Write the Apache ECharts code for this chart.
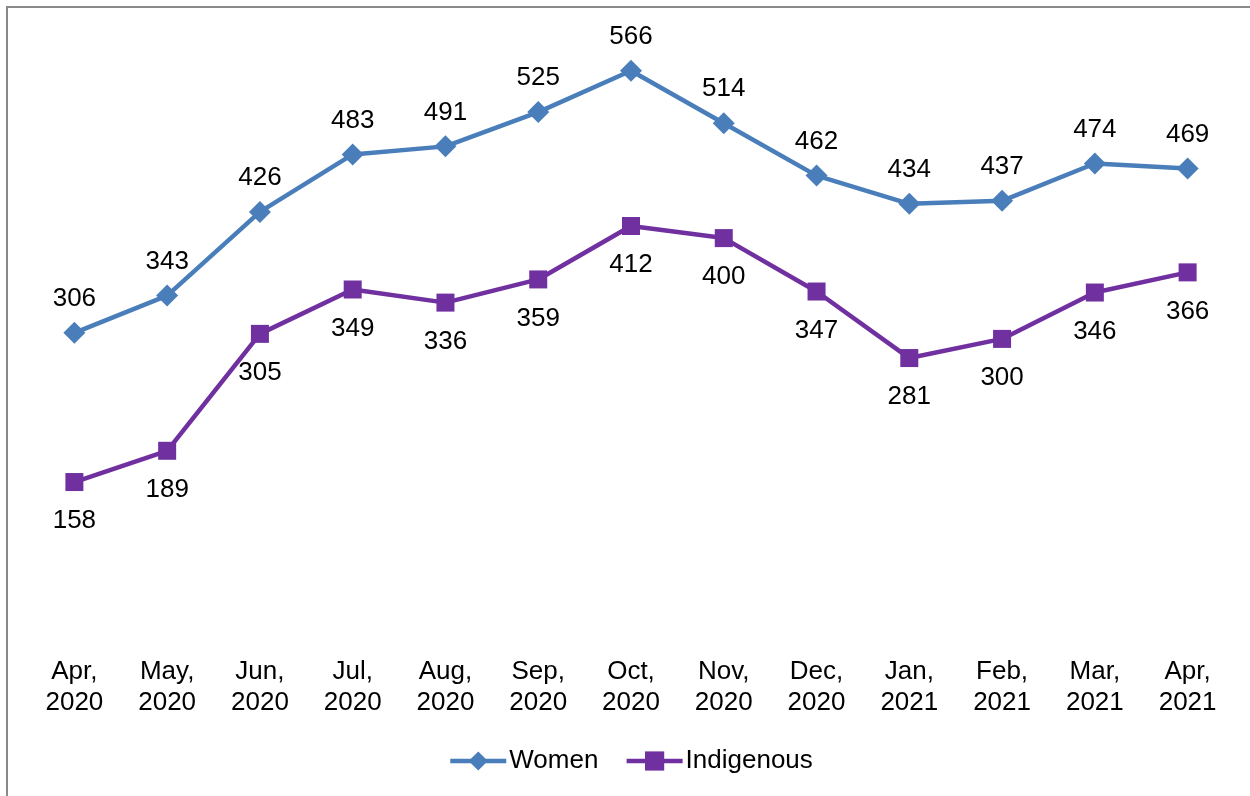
<!DOCTYPE html>
<html>
<head>
<meta charset="utf-8">
<style>
html,body{margin:0;padding:0;background:#fff;}
#chart{width:1250px;height:796px;}
</style>
<script src="https://cdn.jsdelivr.net/npm/echarts@6/dist/echarts.min.js"></script>
</head>
<body>
<div id="chart"></div>
<script>
const categories = ['Apr,\n2020','May,\n2020','Jun,\n2020','Jul,\n2020','Aug,\n2020','Sep,\n2020','Oct,\n2020','Nov,\n2020','Dec,\n2020','Jan,\n2021','Feb,\n2021','Mar,\n2021','Apr,\n2021'];
const women = [306, 343, 426, 483, 491, 525, 566, 514, 462, 434, 437, 474, 469];
const indigenous = [158, 189, 305, 349, 336, 359, 412, 400, 347, 281, 300, 346, 366];

const FONT = 'Liberation Sans, Arial, sans-serif';
const chart = echarts.init(document.getElementById('chart'));
chart.setOption({
  animation: false,
  backgroundColor: '#fff',
  graphic: [{
    type: 'rect',
    shape: { x: 7, y: 7, width: 1300, height: 900 },
    style: { fill: 'none', stroke: '#898989', lineWidth: 2 },
    silent: true
  }],
  grid: { left: 28, right: 16, top: 36.5, bottom: 154.7, containLabel: false },
  xAxis: {
    type: 'category',
    data: categories,
    boundaryGap: true,
    axisLine: { show: false },
    axisTick: { show: false },
    axisLabel: {
      color: '#000', fontSize: 26, fontFamily: FONT, lineHeight: 31, margin: 15, interval: 0
    }
  },
  yAxis: {
    type: 'value', min: 0, max: 600,
    show: false,
    splitLine: { show: false }
  },
  legend: {
    left: 448, top: 748, padding: 0,
    itemWidth: 56, itemHeight: 24, itemGap: 26,
    lineStyle: { width: 4.5 },
    textStyle: { color: '#000', fontSize: 26, fontFamily: FONT, padding: [0, 0, 0, -2] },
    data: ['Women', 'Indigenous']
  },
  series: [
    {
      name: 'Women', type: 'line', data: women,
      symbol: 'diamond', symbolSize: 22,
      lineStyle: { color: '#4A7EBB', width: 4.5 },
      itemStyle: { color: '#4A7EBB' },
      label: { show: true, position: 'top', distance: 10, color: '#000', fontSize: 26, fontFamily: FONT }
    },
    {
      name: 'Indigenous', type: 'line', data: indigenous,
      symbol: 'rect', symbolSize: 18,
      lineStyle: { color: '#7030A0', width: 4.5 },
      itemStyle: { color: '#7030A0' },
      label: { show: true, position: 'bottom', distance: 17, color: '#000', fontSize: 26, fontFamily: FONT }
    }
  ]
});
</script>
</body>
</html>
